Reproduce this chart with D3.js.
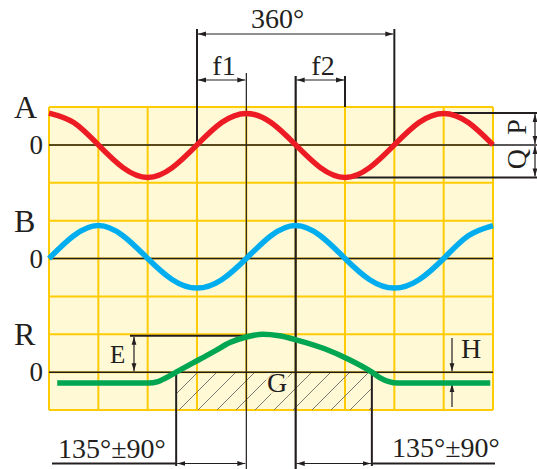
<!DOCTYPE html>
<html>
<head>
<meta charset="utf-8">
<script src="https://cdn.jsdelivr.net/npm/d3@7"></script>
<style>
  body { margin: 0; background: #fff; }
  svg text { font-family: "Liberation Serif", "Times New Roman", serif; fill: #231f20; }
</style>
</head>
<body>
<script>
const WIDTH = 537;
const HEIGHT = 469;

// phase angles (degrees) for the A and B signals
const phaseAB = [0, 45, 90, 135, 180, 225, 270, 315, 360, 405, 450, 495, 540, 585, 630, 675, 720, 765, 810];
// signal A and B, in grid units from their zero line
const seriesA = [0.84, 0.59, 0, -0.6, -0.86, -0.6, 0, 0.59, 0.83, 0.59, 0, -0.6, -0.86, -0.6, 0, 0.59, 0.83, 0.59, 0];
const seriesB = [0, 0.6, 0.87, 0.6, 0, -0.56, -0.78, -0.56, 0, 0.6, 0.87, 0.6, 0, -0.56, -0.78, -0.56, 0, 0.6, 0.87];
// result R
const phaseR = [15, 181, 199, 212, 232, 270, 303, 330, 358, 390, 420, 454, 504, 549, 589, 604, 620, 637, 805];
const seriesR = [-0.29, -0.29, -0.25, -0.16, 0, 0.3, 0.56, 0.78, 0.92, 1.0, 0.96, 0.84, 0.61, 0.32, 0, -0.15, -0.25, -0.29, -0.29];

const panelNames = ["A", "B", "R"];
const gridCols = d3.range(0, 811, 90);
const gridRows = d3.range(0, 9);

// reference angles used by the dimension lines
const zeroUp1 = 270, peakA = 360, zeroDown = 450, troughA = 540, zeroUp2 = 630;
const crossR = [232, 589];

const x = d3.scaleLinear().domain([0, 810]).range([49, 493]);
const y = d3.scaleLinear().domain([0, 8]).range([410, 107]);
const BASE = { A: 7, B: 4, R: 1 };

const svg = d3.select("body").append("svg")
    .attr("width", WIDTH)
    .attr("height", HEIGHT);

const defs = svg.append("defs");
defs.append("marker")
    .attr("id", "arr")
    .attr("viewBox", "0 0 8 6")
    .attr("refX", 8).attr("refY", 3)
    .attr("markerWidth", 8).attr("markerHeight", 6)
    .attr("markerUnits", "userSpaceOnUse")
    .attr("orient", "auto-start-reverse")
    .append("path")
    .attr("d", "M0,0.6L8,3L0,5.4Z")
    .attr("fill", "#231f20");

const hatch = defs.append("pattern")
    .attr("id", "hatch")
    .attr("patternUnits", "userSpaceOnUse")
    .attr("width", 19).attr("height", 19);
hatch.append("path")
    .attr("d", "M-2,21L21,-2")
    .attr("stroke", "#6d6a66")
    .attr("stroke-width", 0.9);

// fondo y cuadricula
svg.append("rect")
    .attr("x", x(0)).attr("y", y(8))
    .attr("width", x(810) - x(0)).attr("height", y(0) - y(8))
    .attr("fill", "#fff9d6");

svg.selectAll(".gcol").data(gridCols).enter().append("line")
    .attr("x1", d => x(d)).attr("x2", d => x(d))
    .attr("y1", y(8)).attr("y2", y(0))
    .attr("stroke", "#ffcb05").attr("stroke-width", 2);

svg.selectAll(".grow").data(gridRows).enter().append("line")
    .attr("x1", x(0)).attr("x2", x(810))
    .attr("y1", d => y(d)).attr("y2", d => y(d))
    .attr("stroke", "#ffcb05").attr("stroke-width", 2);

// zona G
svg.append("rect")
    .attr("x", x(crossR[0])).attr("y", y(BASE.R))
    .attr("width", x(crossR[1]) - x(crossR[0]))
    .attr("height", y(0) - y(BASE.R))
    .attr("fill", "url(#hatch)");

// zero lines
svg.append("line")
    .attr("x1", x(0)).attr("x2", WIDTH)
    .attr("y1", y(BASE.A)).attr("y2", y(BASE.A))
    .attr("stroke", "#231f20").attr("stroke-width", 1.5);
["B", "R"].forEach(k => {
    svg.append("line")
        .attr("x1", x(0)).attr("x2", x(810))
        .attr("y1", y(BASE[k])).attr("y2", y(BASE[k]))
        .attr("stroke", "#231f20").attr("stroke-width", 1.5);
});

// vertical reference lines
function vline(xp, y1, y2, w) {
    svg.append("line")
        .attr("x1", xp).attr("x2", xp)
        .attr("y1", y1).attr("y2", y2)
        .attr("stroke", "#231f20").attr("stroke-width", w);
}
vline(x(zeroUp1), 29, y(BASE.A), 2);
vline(x(zeroUp2), 29, y(BASE.A), 2);
vline(x(peakA), 73, HEIGHT, 1.2);
vline(x(zeroDown), 76, HEIGHT, 2.2);
vline(x(troughA), 76, y(8), 2);
vline(x(crossR[0]), y(BASE.R), 466, 2);
vline(x(crossR[1]), y(BASE.R), 466, 2);

function dim(x1, y1, x2, y2, both = true) {
    const l = svg.append("line")
        .attr("x1", x1).attr("y1", y1).attr("x2", x2).attr("y2", y2)
        .attr("stroke", "#231f20").attr("stroke-width", 1.2)
        .attr("marker-end", "url(#arr)");
    if (both) l.attr("marker-start", "url(#arr)");
}
function hline(x1, x2, yp, w) {
    svg.append("line")
        .attr("x1", x1).attr("x2", x2).attr("y1", yp).attr("y2", yp)
        .attr("stroke", "#231f20").attr("stroke-width", w);
}

// 360, f1, f2
dim(x(zeroUp1) + 1, 34, x(zeroUp2) - 1, 34);
dim(x(zeroUp1) + 1, 80, x(peakA) - 1, 80);
dim(x(zeroDown) + 1, 80, x(troughA) - 1, 80);

// P / Q
const aMax = d3.max(seriesA), aMin = d3.min(seriesA);
hline(x(720), WIDTH, y(BASE.A + aMax), 2);
hline(x(540), WIDTH, y(BASE.A + aMin), 2);
dim(535, y(BASE.A + aMax) + 1, 535, y(BASE.A) - 1);
dim(535, y(BASE.A) + 1, 535, y(BASE.A + aMin) - 1);

// E
const rMax = d3.max(seriesR), rMin = d3.min(seriesR);
hline(130, x(peakA), y(BASE.R + rMax) + 1.5, 2);
dim(134, y(BASE.R + rMax) + 2.5, 134, y(BASE.R) - 1);

// H
dim(452, 338, 452, y(BASE.R) - 1, false);
dim(452, 407, 452, y(BASE.R + rMin) + 1, false);

// 135 +- 90
hline(52, x(crossR[0]), 463.5, 2);
dim(x(crossR[0]) + 1, 463.5, x(peakA) - 1, 463.5);
dim(x(zeroDown) + 1, 463.5, x(crossR[1]) - 1, 463.5);
hline(x(crossR[1]), 495, 463.5, 2);

// curvas
const lineAB = (base) => d3.line()
    .x((d, i) => x(phaseAB[i]))
    .y(d => y(base + d))
    .curve(d3.curveNatural);

svg.append("path").datum(seriesA)
    .attr("d", lineAB(BASE.A))
    .attr("fill", "none").attr("stroke", "#ed1c24").attr("stroke-width", 5.5);

svg.append("path").datum(seriesB)
    .attr("d", lineAB(BASE.B))
    .attr("fill", "none").attr("stroke", "#00aeef").attr("stroke-width", 5.5);

svg.append("path").datum(seriesR)
    .attr("d", d3.line()
        .x((d, i) => x(phaseR[i]))
        .y(d => y(BASE.R + d))
        .curve(d3.curveMonotoneX))
    .attr("fill", "none").attr("stroke", "#00a651").attr("stroke-width", 5.5);

// textos
panelNames.forEach(k => {
    svg.append("text")
        .attr("x", 14).attr("y", y(BASE[k]) - 27)
        .attr("font-size", 32)
        .text(k);
    svg.append("text")
        .attr("x", 43).attr("y", y(BASE[k]) + 9)
        .attr("text-anchor", "end")
        .attr("font-size", 27)
        .text("0");
});

function label(t, xp, yp, size, anchor = "start") {
    return svg.append("text")
        .attr("x", xp).attr("y", yp)
        .attr("font-size", size)
        .attr("text-anchor", anchor)
        .text(t);
}
label("360°", 251, 28, 28);
label("f1", 224, 75, 28, "middle");
label("f2", 323, 75, 28, "middle");
label("E", 110, 363, 25);
label("H", 461, 358, 28);

svg.append("rect")
    .attr("x", 266).attr("y", 373).attr("width", 22).attr("height", 21)
    .attr("fill", "#fff9d6").attr("opacity", 0.7);
label("G", 267, 392, 28);

label("135°±90°", 58, 458, 28);
label("135°±90°", 392, 457, 28);

label("P", 526, 127, 28, "middle").attr("transform", "rotate(-90,526,127)");
label("Q", 526, 159, 28, "middle").attr("transform", "rotate(-90,526,159)");
</script>
</body>
</html>
